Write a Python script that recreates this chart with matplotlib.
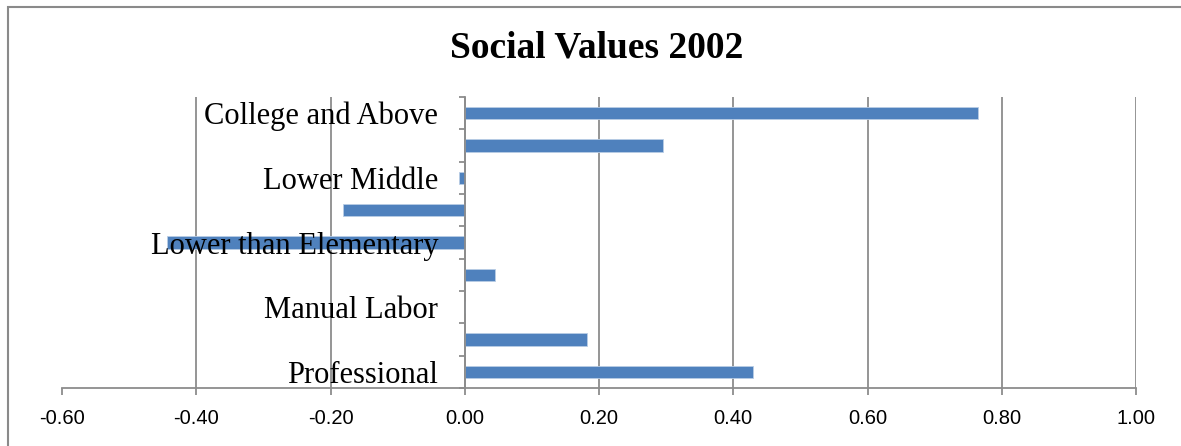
import matplotlib
matplotlib.use("Agg")
import matplotlib.pyplot as plt
from matplotlib.patches import Rectangle
import numpy as np

# categories listed from top to bottom; Excel only printed every other label
categories = ["College and Above", "", "Lower Middle", "", "Lower than Elementary",
              "", "Manual Labor", "", "Professional"]
values = [0.764, 0.296, -0.009, -0.181, -0.443, 0.045, 0.0, 0.182, 0.430]
xticks = [-0.60, -0.40, -0.20, 0.00, 0.20, 0.40, 0.60, 0.80, 1.00]

bar_color = "#4F81BD"
grid_color = "#8C8C8C"

fig = plt.figure(figsize=(11.81, 4.46), dpi=100)
W, H = 1181, 446
ax = fig.add_axes([62 / W, (H - 388) / H, (1136 - 62) / W, (388 - 97) / H])

# chart area border
fig.patches.append(Rectangle((8 / W, -0.1), 1.2, (H - 7) / H + 0.1, transform=fig.transFigure,
                             fill=False, edgecolor="#8A8A8A", linewidth=1.5))

y = np.arange(len(categories))
ax.barh(y, values, height=0.39, color=bar_color, edgecolor="#B9CDE5", linewidth=0.6, zorder=2)

ax.set_xlim(xticks[0], xticks[-1])
ax.set_ylim(len(categories) - 0.5, -0.5)
# tick labels go on top of the bars
ax.set_axisbelow(False)

# vertical gridlines
for xv in xticks[1:]:
    ax.axvline(xv, color=grid_color, linewidth=1.3, zorder=1)

ax.spines["top"].set_visible(False)
ax.spines["right"].set_visible(False)
ax.spines["left"].set_position(("data", 0))
ax.spines["left"].set_color(grid_color)
ax.spines["left"].set_linewidth(1.3)
ax.spines["bottom"].set_color(grid_color)
ax.spines["bottom"].set_linewidth(1.3)

ax.set_xticks(xticks)
ax.set_xticklabels([f"{v:.2f}" for v in xticks], fontfamily="Liberation Sans", fontsize=14.5)
ax.tick_params(axis="x", direction="out", length=5, width=1.3, color=grid_color, pad=10)

# category labels sit left of the zero axis, ticks mark the boundaries
ax.set_yticks(y)
ax.set_yticklabels(categories, fontfamily="Liberation Serif", fontsize=22)
ax.tick_params(axis="y", which="major", length=0, pad=19)
ax.set_yticks(np.arange(-0.5, len(categories), 1.0), minor=True)
ax.tick_params(axis="y", which="minor", direction="out", length=4, width=1.3, color=grid_color)

fig.text(597 / W, (H - 48) / H, "Social Values 2002", ha="center", va="center",
         fontfamily="Liberation Serif", fontweight="bold", fontsize=27)

fig.savefig("out.png", dpi=100)
